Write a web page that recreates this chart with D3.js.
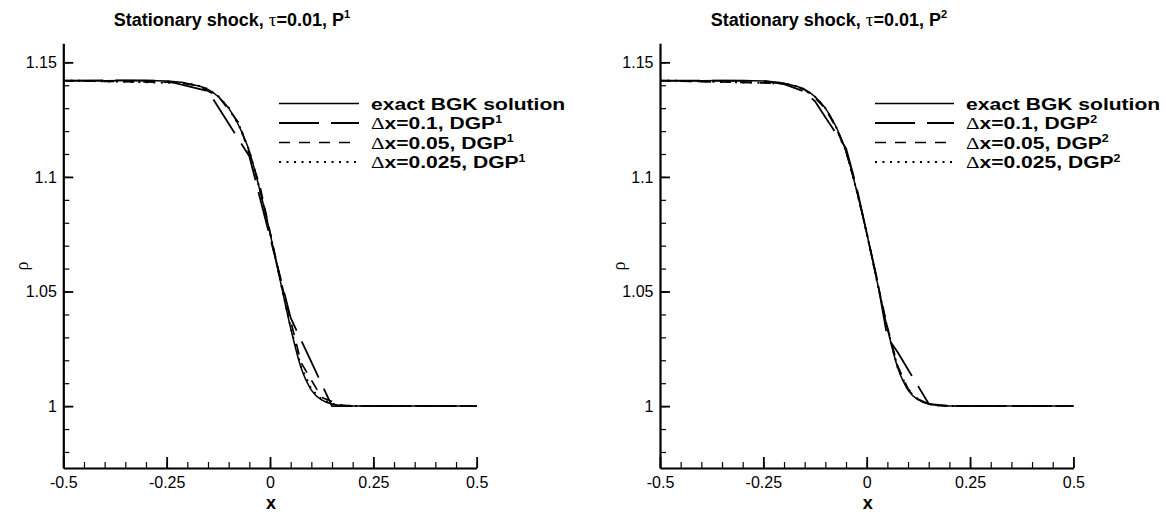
<!DOCTYPE html>
<html><head><meta charset="utf-8">
<script src="https://cdn.jsdelivr.net/npm/d3@7"></script>
<style>body{margin:0;background:#fff}svg{display:block}</style>
</head><body>
<svg id="chart" width="1166" height="514"></svg>
<script>
// ---- data ----
const xMajorTicks = [-0.5, -0.25, 0, 0.25, 0.5];
const xMajorLabels = ["-0.5", "-0.25", "0", "0.25", "0.5"];
const yMajorTicks = [1, 1.05, 1.1, 1.15];
const yMajorLabels = ["1", "1.05", "1.1", "1.15"];
const xMinorTicks = d3.range(-0.5, 0.5001, 0.05);
const yMinorTicks = d3.range(0.98, 1.1501, 0.01);

const exactX   = [-0.5, -0.4, -0.3, -0.25, -0.2, -0.175, -0.15, -0.125, -0.1, -0.075, -0.05, -0.025, 0, 0.025, 0.05, 0.075, 0.1, 0.125, 0.15, 0.175, 0.2, 0.3, 0.4, 0.5];
const exactRho = [1.142, 1.142, 1.1421, 1.1418, 1.1408, 1.1398, 1.1382, 1.135, 1.13, 1.1222, 1.1112, 1.0945, 1.0755, 1.0545, 1.034, 1.0168, 1.007, 1.0027, 1.0009, 1.0003, 1.0001, 1.0, 1.0, 1.0];

// P1 panel
const p1dx1X   = [-0.5, -0.35, -0.25, -0.15, -0.05, 0.05, 0.15, 0.25, 0.5];
const p1dx1Rho = [1.142, 1.1421, 1.1419, 1.1375, 1.109, 1.0385, 1.0, 1.0, 1.0];
const p1dx05X   = [-0.5, -0.225, -0.175, -0.125, -0.075, -0.025, 0.025, 0.075, 0.125, 0.175, 0.225, 0.5];
const p1dx05Rho = [1.142, 1.1412, 1.1398, 1.1352, 1.1235, 1.0965, 1.0555, 1.019, 1.0038, 1.0003, 1.0, 1.0];
const p1dx025X   = [-0.5, -0.2, -0.175, -0.15, -0.125, -0.1, -0.075, -0.05, -0.025, 0, 0.025, 0.05, 0.075, 0.1, 0.125, 0.15, 0.175, 0.2, 0.5];
const p1dx025Rho = [1.1421, 1.1409, 1.1399, 1.1383, 1.1352, 1.1302, 1.1225, 1.1115, 1.0948, 1.0757, 1.0547, 1.0343, 1.0172, 1.0073, 1.0029, 1.001, 1.0003, 1.0001, 1.0];

// P2 panel
const p2dx1X   = [-0.5, -0.25, -0.2, -0.15, -0.125, -0.1, -0.075, -0.05, -0.025, 0, 0.025, 0.05, 0.075, 0.1, 0.125, 0.15, 0.2, 0.5];
const p2dx1Rho = [1.142, 1.1419, 1.1405, 1.1372, 1.1330, 1.1260, 1.1192, 1.1125, 1.0960, 1.0755, 1.0555, 1.0300, 1.0235, 1.0160, 1.0085, 1.0010, 1.0, 1.0];
const p2dx05X   = [-0.5, -0.2, -0.175, -0.15, -0.125, -0.1, -0.075, -0.05, -0.025, 0, 0.025, 0.05, 0.075, 0.1, 0.125, 0.15, 0.175, 0.2, 0.5];
const p2dx05Rho = [1.142, 1.1408, 1.1397, 1.1380, 1.1346, 1.1298, 1.1218, 1.1110, 1.0950, 1.0757, 1.0548, 1.0345, 1.0175, 1.0075, 1.0030, 1.0010, 1.0003, 1.0, 1.0];
const p2dx025X   = [-0.5, -0.2, -0.175, -0.15, -0.125, -0.1, -0.075, -0.05, -0.025, 0, 0.025, 0.05, 0.075, 0.1, 0.125, 0.15, 0.175, 0.2, 0.5];
const p2dx025Rho = [1.1421, 1.1408, 1.1398, 1.1382, 1.1350, 1.1300, 1.1222, 1.1112, 1.0945, 1.0755, 1.0545, 1.0340, 1.0168, 1.0070, 1.0027, 1.0009, 1.0003, 1.0001, 1.0];

const panelTitles = ["1", "2"];
const legendLabels = ["exact BGK solution", "\u0394x=0.1, DGP", "\u0394x=0.05, DGP", "\u0394x=0.025, DGP"];

// ---- drawing ----
const svg = d3.select("#chart");
const FONT = "'Liberation Sans', Arial, Helvetica, sans-serif";
const SERIF = "'Liberation Serif', 'DejaVu Serif', serif";

const styles = [
  {w: 1.5, dash: null},
  {w: 1.8, dash: "40,12"},
  {w: 1.7, dash: "11,9"},
  {w: 2.0, dash: "2,5.5"}
];

function zip(xs, ys){ return xs.map((x,i)=>[x, ys[i]]); }

const panels = [
  {ox: 63.3, sup: panelTitles[0], titleX: 232, legLine: [279, 359], legText: 371,
   series: [zip(exactX, exactRho), zip(p1dx1X, p1dx1Rho), zip(p1dx05X, p1dx05Rho), zip(p1dx025X, p1dx025Rho)]},
  {ox: 660, sup: panelTitles[1], titleX: 829, legLine: [875, 954], legText: 966,
   series: [zip(exactX, exactRho), zip(p2dx1X, p2dx1Rho), zip(p2dx05X, p2dx05Rho), zip(p2dx025X, p2dx025Rho)]}
];

const W = 413.4;
const legendRows = [103.5, 123, 142.5, 162];

panels.forEach(p => {
  const g = svg.append("g");
  const x = d3.scaleLinear().domain([-0.5, 0.5]).range([p.ox, p.ox + W]);
  const y = d3.scaleLinear().domain([0.973, 1.1583]).range([468, 43.3]);

  // series
  const line = d3.line().x(d => x(d[0])).y(d => y(d[1]));
  p.series.forEach((s, i) => {
    line.curve(i === 0 ? d3.curveMonotoneX : d3.curveLinear);
    g.append("path").attr("d", line(s)).attr("fill", "none")
      .attr("stroke", "#000").attr("stroke-width", styles[i].w)
      .attr("stroke-dasharray", styles[i].dash)
      .attr("stroke-linejoin", "round");
  });

  // minor ticks
  const xMinor = g.append("g").attr("transform", "translate(0,468)")
    .call(d3.axisBottom(x).tickValues(xMinorTicks).tickSize(-6).tickFormat(""));
  xMinor.select(".domain").remove();
  xMinor.selectAll("line").attr("stroke-width", 1.2);
  const yMinor = g.append("g").attr("transform", `translate(${p.ox},0)`)
    .call(d3.axisLeft(y).tickValues(yMinorTicks).tickSize(-6).tickFormat(""));
  yMinor.select(".domain").remove();
  yMinor.selectAll("line").attr("stroke-width", 1.2);

  // major axes
  const xAx = g.append("g").attr("transform", "translate(0,468)")
    .call(d3.axisBottom(x).tickValues(xMajorTicks).tickSize(-11).tickSizeOuter(0).tickPadding(8.6)
      .tickFormat((d, i) => xMajorLabels[i]));
  const yAx = g.append("g").attr("transform", `translate(${p.ox},0)`)
    .call(d3.axisLeft(y).tickValues(yMajorTicks).tickSize(-10).tickSizeOuter(0).tickPadding(6.5)
      .tickFormat((d, i) => yMajorLabels[i]));
  [xAx, yAx].forEach(a => {
    a.select(".domain").attr("stroke-width", 2.2);
    a.selectAll(".tick line").attr("stroke-width", 1.8);
    a.selectAll("text").attr("font-family", FONT).attr("font-size", 16).attr("fill", "#000");
  });

  // title
  const t = g.append("text").attr("x", p.titleX).attr("y", 26).attr("text-anchor", "middle")
    .attr("font-family", FONT).attr("font-size", 18).attr("font-weight", "bold");
  t.append("tspan").text("Stationary shock, ");
  t.append("tspan").attr("font-family", SERIF).attr("font-weight", "normal").attr("font-size", 19).text("\u03c4");
  t.append("tspan").text("=0.01, P");
  t.append("tspan").attr("font-size", 11).attr("dy", -8).text(p.sup);

  // axis labels
  g.append("text").attr("x", p.ox + W / 2 + 1).attr("y", 509).attr("text-anchor", "middle")
    .attr("font-family", FONT).attr("font-size", 18).attr("font-weight", "bold").text("x");
  g.append("text").attr("transform", `translate(${p.ox - 35},266) rotate(-90)`).attr("text-anchor", "middle")
    .attr("font-family", SERIF).attr("font-size", 18).text("\u03c1");

  // legend
  legendRows.forEach((ry, i) => {
    g.append("line").attr("x1", p.legLine[0]).attr("x2", p.legLine[1]).attr("y1", ry).attr("y2", ry)
      .attr("stroke", "#000").attr("stroke-width", styles[i].w).attr("stroke-dasharray", styles[i].dash);
    const lt = g.append("text").attr("transform", `translate(${p.legText},${ry + 6.2}) scale(1.24,1)`)
      .attr("font-family", FONT).attr("font-size", 17).attr("font-weight", "bold");
    if (i === 0) {
      lt.text(legendLabels[i]);
    } else {
      const s = legendLabels[i];
      lt.append("tspan").attr("font-family", SERIF).attr("font-weight", "normal").text(s[0]);
      lt.append("tspan").text(s.slice(1));
      lt.append("tspan").attr("font-size", 10).attr("dy", -6.5).text(p.sup);
    }
  });
});
</script>
</body></html>
